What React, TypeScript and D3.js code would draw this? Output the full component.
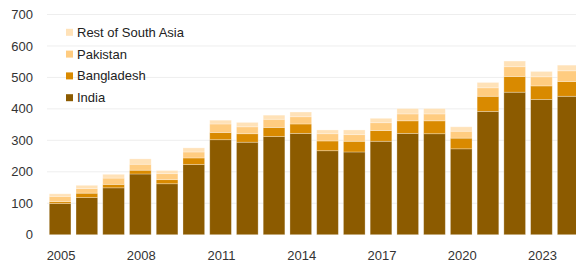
import React from "react";
import * as d3 from "d3";

const years = d3.range(2005, 2025).map(String);
const india = [99, 118, 149, 193, 162, 223, 302, 294, 312, 322, 267, 263, 297, 322, 321, 273, 392, 453, 430, 440];
const bangladesh = [6, 14, 11, 12, 13, 21, 23, 27, 29, 30, 31, 34, 34, 40, 41, 34, 48, 50, 43, 47];
const pakistan = [17, 15, 20, 19, 19, 19, 27, 22, 26, 23, 23, 21, 25, 22, 22, 22, 27, 31, 29, 34];
const restOfSouthAsia = [8, 10, 12, 17, 10, 13, 12, 14, 13, 15, 12, 15, 14, 17, 17, 14, 17, 18, 17, 18];
const yTicks = [0, 100, 200, 300, 400, 500, 600, 700];
const xTickLabels = ["2005", "2008", "2011", "2014", "2017", "2020", "2023"];

const seriesNames = ["India", "Bangladesh", "Pakistan", "Rest of South Asia"];
const colors = ["#8c5b00", "#d98a00", "#ffcc80", "#ffe2b8"];

const W = 576;
const H = 264;
const font = "'Liberation Sans', Arial, sans-serif";

const App = () => {
  const rows = years.map((y, i) => ({
    year: y,
    India: india[i],
    Bangladesh: bangladesh[i],
    Pakistan: pakistan[i],
    "Rest of South Asia": restOfSouthAsia[i],
  }));

  const stack = d3.stack<any>().keys(seriesNames)(rows);

  const x = d3.scaleBand().domain(years).range([44.2, 584.1]).padding(0.19);
  const y = d3.scaleLinear().domain([0, 700]).range([234.7, 14.5]);

  const legendOrder = [3, 2, 1, 0];

  return (
    <div style={{ position: "fixed", left: 0, top: 0 }}>
      <svg width={W} height={H} style={{ display: "block", background: "#fff" }}>
        {/* grid */}
        {yTicks.filter(t => t > 0).map(t => (
          <line key={t} x1={47} x2={W} y1={y(t)} y2={y(t)} stroke="#eeeeee" strokeWidth={1} />
        ))}
        {/* bars */}
        {stack.map((s, si) => (
          <g key={s.key} fill={colors[si]}>
            {s.map((d, i) => (
              <rect
                key={i}
                x={x(years[i])}
                y={y(d[1])}
                width={x.bandwidth()}
                height={y(d[0]) - y(d[1])}
                stroke="rgba(255,255,255,0.35)"
                strokeWidth={0.8}
              />
            ))}
          </g>
        ))}
        {/* y axis labels */}
        {yTicks.map(t => (
          <text key={t} x={33} y={y(t)} dy="0.35em" textAnchor="end" fontFamily={font} fontSize={13} fill="#333">
            {t}
          </text>
        ))}
        {/* x axis labels */}
        {xTickLabels.map(l => (
          <text key={l} x={(x(l) || 0) + x.bandwidth() / 2 + 1} y={259.5} textAnchor="middle" fontFamily={font} fontSize={13} fill="#333">
            {l}
          </text>
        ))}
        {/* legend */}
        {legendOrder.map((si, k) => (
          <g key={si} transform={`translate(66, ${32.3 + k * 21.8})`}>
            <rect x={0} y={-3.5} width={7} height={7} fill={colors[si]} />
            <text x={11} y={0} dy="0.35em" fontFamily={font} fontSize={13} fill="#222">
              {seriesNames[si]}
            </text>
          </g>
        ))}
      </svg>
    </div>
  );
};

export default App;
